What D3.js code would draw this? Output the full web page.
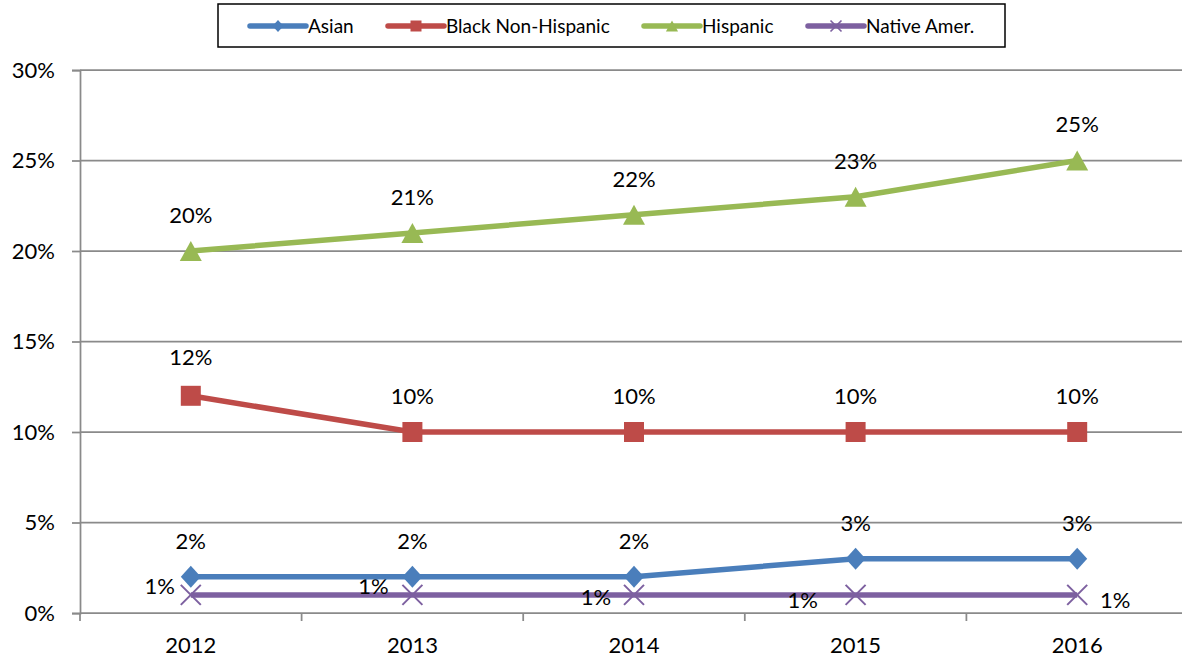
<!DOCTYPE html>
<html>
<head>
<meta charset="utf-8">
<script src="https://d3js.org/d3.v7.min.js"></script>
<style>
  body, html { margin: 0; background: #fff; }
  svg text { font-family: 'Lato', 'Open Sans', sans-serif; fill: #000; }
</style>
</head>
<body>
<div id="chart"></div>
<script>
var years = ["2012", "2013", "2014", "2015", "2016"];
var seriesNames = ["Asian", "Black Non-Hispanic", "Hispanic", "Native Amer."];
var asian = [2, 2, 2, 3, 3];
var black = [12, 10, 10, 10, 10];
var hispanic = [20, 21, 22, 23, 25];
var nativeAmer = [1, 1, 1, 1, 1];
var yTicks = [0, 5, 10, 15, 20, 25, 30];

var colors = ["#4a7ebb", "#be4b48", "#98b954", "#7d60a0"];
var markers = ["diamond", "square", "triangle", "cross"];
// label offsets per point (Native Amer. labels sit off to the side)
var labelOffsets = [
  [[0, -36], [0, -36], [0, -36], [0, -36], [0, -36]],
  [[0, -39], [0, -36], [0, -36], [0, -36], [0, -36]],
  [[0, -36], [0, -36], [0, -36], [0, -36], [0, -36]],
  [[-31, -9], [-39, -9], [-38, 2], [-53, 5], [38, 5]]
];
var series = [asian, black, hispanic, nativeAmer].map(function (v, i) {
  return { name: seriesNames[i], values: v, color: colors[i], marker: markers[i], offsets: labelOffsets[i] };
});

var width = 1182, height = 660;
var mLeft = 80, mRight = 1188, mTop = 70, mBottom = 613;

var svg = d3.select("#chart").append("svg")
  .attr("width", width).attr("height", height);

var x = d3.scaleBand().domain(years).range([mLeft, mRight]);
var y = d3.scaleLinear().domain([0, 30]).range([mBottom, mTop]);
var cx = d => x(d) + x.bandwidth() / 2;

// gridlines
svg.append("g").selectAll("line")
  .data(yTicks.slice(1))
  .enter().append("line")
    .attr("x1", mLeft).attr("x2", mRight)
    .attr("y1", d => y(d)).attr("y2", d => y(d))
    .attr("stroke", "#8a8a8a").attr("stroke-width", 1.75);

// y axis
var yAxis = svg.append("g")
  .attr("transform", "translate(" + mLeft + ",0)")
  .call(d3.axisLeft(y).tickValues(yTicks).tickFormat(d => d + "%").tickSize(8).tickPadding(17));
yAxis.select(".domain").attr("stroke", "#8a8a8a").attr("stroke-width", 1.75);
yAxis.selectAll(".tick line").attr("stroke", "#8a8a8a").attr("stroke-width", 1.75);
yAxis.selectAll("text").style("font-size", "22px").style("font-family", "Lato, sans-serif").attr("fill", "#000");

// x axis (ticks on category boundaries)
var xg = svg.append("g");
xg.append("line")
  .attr("x1", mLeft).attr("x2", mRight)
  .attr("y1", mBottom).attr("y2", mBottom)
  .attr("stroke", "#8a8a8a").attr("stroke-width", 1.75);
xg.selectAll("line.tk")
  .data(years.concat(["end"]))
  .enter().append("line")
    .attr("class", "tk")
    .attr("x1", (d, i) => mLeft + i * x.step()).attr("x2", (d, i) => mLeft + i * x.step())
    .attr("y1", mBottom).attr("y2", mBottom + 8)
    .attr("stroke", "#8a8a8a").attr("stroke-width", 1.75);
xg.selectAll("text")
  .data(years)
  .enter().append("text")
    .attr("x", d => cx(d))
    .attr("y", 653)
    .attr("text-anchor", "middle")
    .style("font-size", "22px")
    .text(d => d);

var line = d3.line()
  .x((d, i) => cx(years[i]))
  .y(d => y(d));

function markerPath(type) {
  if (type === "diamond") return "M0,-11L10,0L0,11L-10,0Z";
  if (type === "square") return "M-10,-10H10V10H-10Z";
  if (type === "triangle") return "M0,-10L11,10H-11Z";
  return "M-10,-10L10,10M-10,10L10,-10";
}

// draw in reverse so Asian sits on top
var gSeries = svg.append("g").selectAll("g")
  .data(series.slice().reverse())
  .enter().append("g");

gSeries.append("path")
  .attr("d", d => line(d.values))
  .attr("fill", "none")
  .attr("stroke", d => d.color)
  .attr("stroke-width", 5.5);

gSeries.each(function (s) {
  var g = d3.select(this);
  g.selectAll("path.mk")
    .data(s.values)
    .enter().append("path")
      .attr("class", "mk")
      .attr("transform", (d, i) => "translate(" + cx(years[i]) + "," + y(d) + ")")
      .attr("d", markerPath(s.marker))
      .attr("fill", s.marker === "cross" ? "none" : s.color)
      .attr("stroke", s.marker === "cross" ? s.color : "none")
      .attr("stroke-width", 2);
  g.selectAll("text")
    .data(s.values)
    .enter().append("text")
      .attr("x", (d, i) => cx(years[i]) + s.offsets[i][0])
      .attr("y", (d, i) => y(d) + s.offsets[i][1])
      .attr("dy", "0.36em")
      .attr("text-anchor", "middle")
      .style("font-size", "22px")
      .text(d => d + "%");
});

// legend
var legend = svg.append("g");
legend.append("rect")
  .attr("x", 218).attr("y", 4).attr("width", 787).attr("height", 43)
  .attr("fill", "#fff").attr("stroke", "#000").attr("stroke-width", 1.5);
var legendX = [250, 388, 644, 808];
var items = legend.selectAll("g.item")
  .data(series)
  .enter().append("g")
    .attr("class", "item")
    .attr("transform", (d, i) => "translate(" + legendX[i] + ",26)");
items.append("line")
  .attr("x1", 0).attr("x2", 56)
  .attr("stroke", d => d.color).attr("stroke-width", 5.5)
  .attr("stroke-linecap", "round");
items.append("path")
  .attr("transform", "translate(28,0) scale(0.55)")
  .attr("d", d => markerPath(d.marker))
  .attr("fill", d => d.marker === "cross" ? "none" : d.color)
  .attr("stroke", d => d.marker === "cross" ? d.color : "none")
  .attr("stroke-width", 3);
items.append("text")
  .attr("x", 58)
  .attr("dy", "0.36em")
  .style("font-size", "19px")
  .text(d => d.name);
</script>
</body>
</html>
